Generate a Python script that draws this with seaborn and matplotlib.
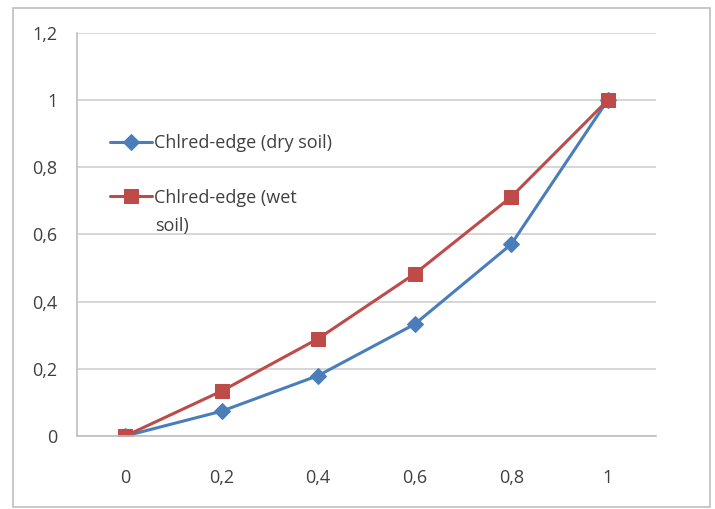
import matplotlib
matplotlib.use("Agg")
import matplotlib.pyplot as plt
import seaborn as sns
import pandas as pd
from matplotlib.patches import Rectangle

categories = ["0", "0,2", "0,4", "0,6", "0,8", "1"]
dry_soil = [0.0, 0.074, 0.18, 0.333, 0.571, 1.0]
wet_soil = [0.0, 0.134, 0.29, 0.483, 0.712, 1.0]
series_names = ["Chlred-edge (dry soil)", "Chlred-edge (wet soil)"]
legend_lines = [["Chlred-edge (dry soil)"], ["Chlred-edge (wet", "soil)"]]
y_ticks = [0, 0.2, 0.4, 0.6, 0.8, 1.0, 1.2]
y_labels = ["0", "0,2", "0,4", "0,6", "0,8", "1", "1,2"]

sns.set_style("white")
plt.rcParams['font.family'] = ['Open Sans', 'DejaVu Sans']
FS = 13
TXT = "#404040"

fig = plt.figure(figsize=(7.15, 5.09), dpi=100)
fig.patches.append(Rectangle((13/715, 1-507/509), (710-13)/715, (507-8)/509,
                             transform=fig.transFigure, fill=False,
                             edgecolor="#bfbfbf", linewidth=1.2))
ax = fig.add_axes([77/715, 1-436/509, (656-77)/715, (436-33)/509])

pos = list(range(len(categories)))
df = pd.DataFrame({"x": pos + pos,
                   "y": dry_soil + wet_soil,
                   "series": [series_names[0]]*len(pos) + [series_names[1]]*len(pos)})
blue = "#4A7EBB"
red = "#BE4B48"
sns.lineplot(data=df[df.series == series_names[0]], x="x", y="y", ax=ax, color=blue,
             marker="D", markersize=8, markeredgecolor=blue, linewidth=2.2, sort=False,
             label=legend_lines[0][0])
sns.lineplot(data=df[df.series == series_names[1]], x="x", y="y", ax=ax, color=red,
             marker="s", markersize=10.5, markeredgecolor=red, linewidth=2.2, sort=False,
             label=legend_lines[1][0])

ax.set_xlim(-0.5, len(categories) - 0.5)
ax.set_ylim(0, 1.2)
ax.set_yticks(y_ticks)
ax.set_yticklabels(y_labels)
ax.set_xticks(pos)
ax.set_xticklabels(categories)
ax.set_xticks([p - 0.5 for p in pos] + [len(pos) - 0.5], minor=True)
ax.tick_params(axis="x", which="major", length=0, pad=24, labelsize=FS, labelcolor=TXT)
ax.tick_params(axis="x", which="minor", length=5, color="#bfbfbf", direction="out")
ax.tick_params(axis="y", which="major", length=5, color="#bfbfbf", pad=9, labelsize=FS,
               labelcolor=TXT, direction="out")
ax.set_xlabel("")
ax.set_ylabel("")
ax.grid(axis="y", color="#d0d0d0", linewidth=1.2)
ax.set_axisbelow(True)
for s in ["top", "right"]:
    ax.spines[s].set_visible(False)
for s in ["left", "bottom"]:
    ax.spines[s].set_color("#bfbfbf")
    ax.spines[s].set_linewidth(1.2)

leg = ax.legend(loc="upper left", bbox_to_anchor=(101/715, 1-125/509),
                bbox_transform=fig.transFigure, frameon=False, fontsize=FS,
                handlelength=2.3, labelspacing=2.03, handletextpad=0.15, borderpad=0)
for t in leg.get_texts():
    t.set_color(TXT)

# continuation line of the wrapped legend label
fig.text(155/715, 1-226/509, legend_lines[1][1], fontsize=FS, color=TXT,
         ha="left", va="center")

fig.savefig("out.png", dpi=100)
